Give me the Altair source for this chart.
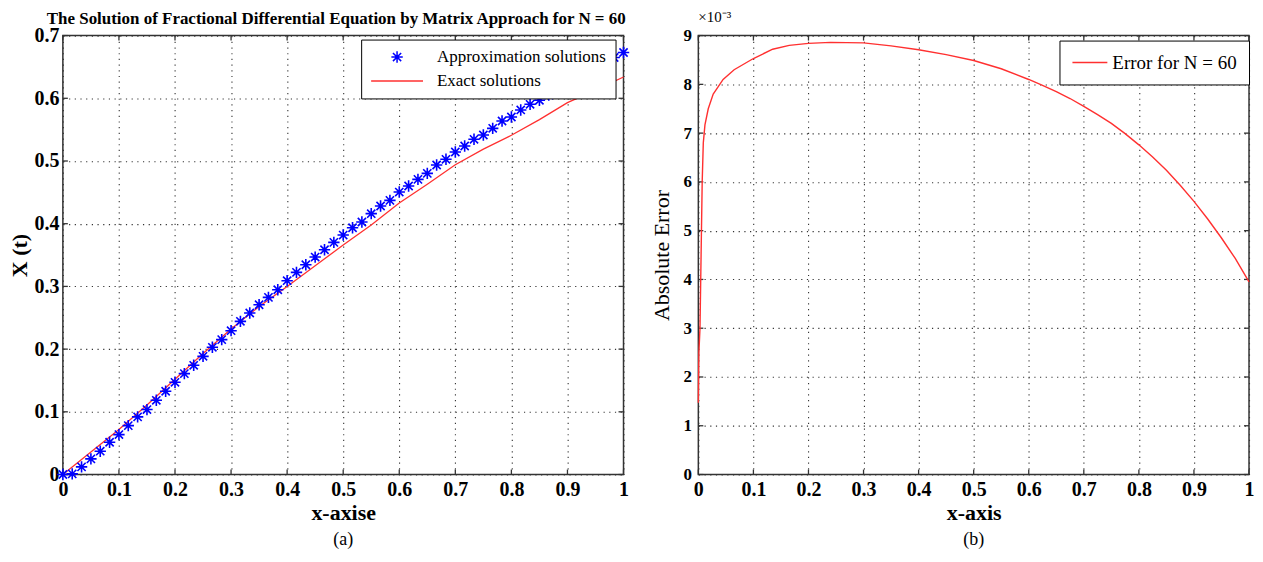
import altair as alt
import pandas as pd

# ---------------- data ----------------
# (a) approximation solutions (N = 60 grid) and exact solution
t_approx = [i / 60 for i in range(61)]
x_approx = [0.0000, 0.0010, 0.0122, 0.0250, 0.0372, 0.0515, 0.0637, 0.0780, 0.0919, 0.1036,
            0.1184, 0.1328, 0.1471, 0.1609, 0.1742, 0.1885, 0.2029, 0.2151, 0.2294, 0.2443,
            0.2576, 0.2708, 0.2825, 0.2947, 0.3091, 0.3224, 0.3346, 0.3468, 0.3585, 0.3702,
            0.3819, 0.3936, 0.4027, 0.4160, 0.4282, 0.4372, 0.4505, 0.4601, 0.4707, 0.4803,
            0.4936, 0.5027, 0.5144, 0.5239, 0.5346, 0.5415, 0.5521, 0.5638, 0.5702, 0.5814,
            0.5904, 0.5968, 0.6050, 0.6140, 0.6220, 0.6310, 0.6390, 0.6480, 0.6560, 0.6650,
            0.6730]
t_exact = [0.00, 0.05, 0.10, 0.15, 0.20, 0.25, 0.30, 0.35, 0.40, 0.45, 0.50,
           0.55, 0.60, 0.65, 0.70, 0.75, 0.80, 0.85, 0.90, 0.95, 1.00]
x_exact = [0.000, 0.036, 0.072, 0.111, 0.152, 0.193, 0.232, 0.268, 0.300, 0.333, 0.366,
           0.398, 0.433, 0.463, 0.494, 0.519, 0.541, 0.566, 0.593, 0.613, 0.634]

# (b) absolute error (in units of 1e-3)
t_err = [0.000, 0.001, 0.003, 0.005, 0.007, 0.009, 0.012, 0.018, 0.027, 0.045, 0.065,
         0.100, 0.135, 0.165, 0.200, 0.240, 0.300, 0.350, 0.400, 0.450, 0.500,
         0.550, 0.600, 0.625, 0.650, 0.675, 0.700, 0.725, 0.750, 0.775, 0.800,
         0.825, 0.850, 0.875, 0.900, 0.925, 0.950, 0.975, 1.000]
err = [1.47, 2.50, 3.00, 4.50, 6.00, 6.80, 7.17, 7.50, 7.80, 8.10, 8.30,
       8.53, 8.72, 8.80, 8.84, 8.86, 8.85, 8.79, 8.71, 8.61, 8.49,
       8.32, 8.10, 7.98, 7.85, 7.71, 7.55, 7.38, 7.20, 6.99, 6.76,
       6.51, 6.24, 5.93, 5.60, 5.24, 4.85, 4.43, 3.95]

x_ticks = [0, 0.1, 0.2, 0.3, 0.4, 0.5, 0.6, 0.7, 0.8, 0.9, 1]
y_ticks_a = [0, 0.1, 0.2, 0.3, 0.4, 0.5, 0.6, 0.7]
y_ticks_b = [0, 1, 2, 3, 4, 5, 6, 7, 8, 9]

series_a = ["Approximation solutions", "Exact solutions"]
series_b = ["Error for N = 60"]

title_a = "The Solution of Fractional Differential Equation by Matrix Approach for N = 60"

# ---------------- style ----------------
FONT = "Liberation Serif"
BLUE = "#0000ff"
RED = "#ff3030"
FRAME = "#333333"
W_A, W_B, H = 562, 552, 440
STAR = "M0,-1L0,1M-1,0L1,0M-0.72,-0.72L0.72,0.72M-0.72,0.72L0.72,-0.72"

grid_kw = dict(grid=True, gridDash=[1.2, 4.5], gridColor="#333333", gridOpacity=1, gridWidth=1.1,
               ticks=False, domain=False, labelFlush=False, labelOverlap=False,
               labelFont=FONT, titleFont=FONT, labelColor="black", titleColor="black")


def tick_layers(xs, ys, xf, yf, xt, yt, W):
    xdf = pd.DataFrame({xf: xt})
    ydf = pd.DataFrame({yf: yt})
    xe = alt.X(f"{xf}:Q", scale=xs)
    ye = alt.Y(f"{yf}:Q", scale=ys)
    base_x = alt.Chart(xdf).mark_rule(color=FRAME, strokeWidth=1.3)
    base_y = alt.Chart(ydf).mark_rule(color=FRAME, strokeWidth=1.3)
    return [
        base_x.encode(x=xe, y=alt.value(H), y2=alt.value(H - 5)),
        base_x.encode(x=xe, y=alt.value(0), y2=alt.value(5)),
        base_y.encode(y=ye, x=alt.value(0), x2=alt.value(5)),
        base_y.encode(y=ye, x=alt.value(W), x2=alt.value(W - 5)),
    ]


# ---------------- panel (a) ----------------
xs_a = alt.Scale(domain=[0, 1], nice=False, zero=False)
ys_a = alt.Scale(domain=[0, 0.7], nice=False, zero=False)
xax_a = alt.Axis(values=x_ticks, format="~g", title="x-axise", labelFontSize=20,
                 labelFontWeight="bold", labelPadding=5, titleFontSize=22,
                 titleFontWeight="bold", titlePadding=3, **grid_kw)
yax_a = alt.Axis(values=y_ticks_a, format="~g", title="X (t)", labelFontSize=20,
                 labelFontWeight="bold", labelPadding=4, titleFontSize=22,
                 titleFontWeight="bold", titlePadding=2, **grid_kw)

df_app = pd.DataFrame({"t": t_approx, "x": x_approx, "series": series_a[0]})
df_ex = pd.DataFrame({"t": t_exact, "x": x_exact, "series": series_a[1]})

leg_a = alt.Legend(title=None, orient="none", legendX=299, legendY=4, fillColor="white",
                   strokeColor="black", padding=9, labelFont=FONT, labelFontSize=17,
                   labelColor="black", symbolStrokeWidth=1.5, rowPadding=6,
                   clipHeight=17, labelOffset=13, labelLimit=400)
color_a = alt.Color("series:N", scale=alt.Scale(domain=series_a, range=[BLUE, RED]), legend=leg_a)

xe_a = alt.X("t:Q", scale=xs_a, axis=xax_a)
ye_a = alt.Y("x:Q", scale=ys_a, axis=yax_a)

exact_line = alt.Chart(df_ex).mark_line(strokeWidth=1.3).encode(
    x=xe_a, y=ye_a, color=color_a)
approx_pts = alt.Chart(df_app).mark_point(filled=False, strokeWidth=1.6, opacity=1).encode(
    x=xe_a, y=ye_a, color=color_a,
    shape=alt.Shape("series:N", scale=alt.Scale(domain=series_a, range=[STAR, "stroke"]), legend=leg_a),
    size=alt.Size("series:N", scale=alt.Scale(domain=series_a, range=[130, 2704]), legend=leg_a),
)
cap_a = alt.Chart(pd.DataFrame({"c": ["(a)"]})).mark_text(
    font=FONT, fontSize=18, color="black", baseline="middle").encode(
    text="c:N", x=alt.value(W_A / 2), y=alt.value(H + 66))

panel_a = alt.layer(
    *tick_layers(xs_a, ys_a, "t", "x", x_ticks, y_ticks_a, W_A),
    exact_line, approx_pts, cap_a,
).properties(
    width=W_A, height=H,
    title=alt.TitleParams(title_a, font=FONT, fontSize=17, fontWeight="bold", color="black",
                          anchor="middle", frame="group", dx=-7, offset=-2),
)

# ---------------- panel (b) ----------------
xs_b = alt.Scale(domain=[0, 1], nice=False, zero=False)
ys_b = alt.Scale(domain=[0, 9], nice=False, zero=False)
xax_b = alt.Axis(values=x_ticks, format="~g", title="x-axis", labelFontSize=20,
                 labelFontWeight="bold", labelPadding=5, titleFontSize=22,
                 titleFontWeight="bold", titlePadding=3, **grid_kw)
yax_b = alt.Axis(values=y_ticks_b, format="d", title="Absolute Error", labelFontSize=17,
                 labelFontWeight="bold", labelPadding=7, titleFontSize=22,
                 titleFontWeight="normal", titlePadding=9, **grid_kw)

df_err = pd.DataFrame({"t": t_err, "e": err, "series": series_b[0]})
leg_b = alt.Legend(title=None, orient="none", legendX=362, legendY=5, fillColor="white",
                   strokeColor="black", padding=12, labelFont=FONT, labelFontSize=19,
                   labelColor="black", symbolType="stroke", symbolSize=1225,
                   symbolStrokeWidth=1.5, clipHeight=20, labelOffset=4, labelLimit=400)

xe_b = alt.X("t:Q", scale=xs_b, axis=xax_b)
ye_b = alt.Y("e:Q", scale=ys_b, axis=yax_b)

err_line = alt.Chart(df_err).mark_line(strokeWidth=1.4).encode(
    x=xe_b, y=ye_b,
    color=alt.Color("series:N", scale=alt.Scale(domain=series_b, range=[RED]), legend=leg_b))
cap_b = alt.Chart(pd.DataFrame({"c": ["(b)"]})).mark_text(
    font=FONT, fontSize=18, color="black", baseline="middle").encode(
    text="c:N", x=alt.value(W_B / 2), y=alt.value(H + 66))

panel_b = alt.layer(
    *tick_layers(xs_b, ys_b, "t", "e", x_ticks, y_ticks_b, W_B),
    err_line, cap_b,
).properties(
    width=W_B, height=H,
    title=alt.TitleParams("×10⁻³", font=FONT, fontSize=15, fontWeight="normal", color="black",
                          anchor="start", frame="group", offset=2),
)

chart = alt.hconcat(panel_a, panel_b, spacing=16).resolve_scale(
    x="independent", y="independent", color="independent", shape="independent",
    size="independent",
).configure_view(stroke=FRAME, strokeWidth=1.5).properties(
    padding={"left": 0, "top": 0, "right": 0, "bottom": 0}, background="white")

chart.save("out.html", embed_options={"renderer": "svg", "actions": False})
